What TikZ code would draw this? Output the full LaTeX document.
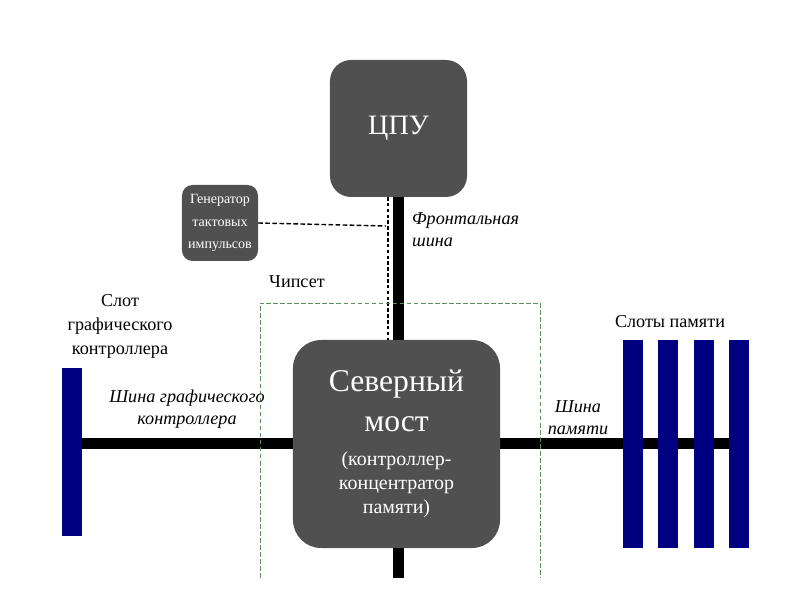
\documentclass[tikz,border=0pt]{standalone}
\usepackage{fontspec}
\setmainfont{Liberation Serif}
\usetikzlibrary{positioning,backgrounds}
\definecolor{boxgray}{HTML}{505050}
\definecolor{slotblue}{HTML}{000080}
\definecolor{chipgreen}{HTML}{5E8E5E}
\newcommand{\bigfs}{\fontsize{27}{34}\selectfont}
\newcommand{\smallfs}{\fontsize{17}{20.5}\selectfont}

\begin{document}
\begin{tikzpicture}[x=0.03cm,y=-0.03cm,
  block/.style={fill=boxgray,text=white,align=center,inner sep=0pt},
  slot/.style={fill=slotblue,minimum width=0.6cm,inner sep=0pt},
  bus/.style={line width=0.33cm},
  lbl/.style={align=center,font=\fontsize{15.5}{20.5}\selectfont},
  buslbl/.style={align=center,font=\itshape\fontsize{15.5}{19}\selectfont},
  node distance=0.45cm]
\useasboundingbox (0,0) rectangle (800,600);

% blocks
\node[block,rounded corners=18pt,minimum width=4.11cm,minimum height=4.11cm,
  font=\fontsize{24}{28}\selectfont] (cpu) at (398.5,128.5) {ЦПУ};
\node[block,rounded corners=9pt,minimum width=2.28cm,minimum height=2.28cm,
  font=\fontsize{12}{19.5}\selectfont] (clk) at (220,223) {Генератор\\тактовых\\импульсов};
\node[block,rounded corners=24pt,minimum width=6.21cm,minimum height=6.24cm,font=\smallfs] (nb) at (396.5,444)
  {\bigfs Северный\\[13pt]\bigfs мост\\[9pt](контроллер-\\концентратор\\памяти)};

% slots
\node[slot,minimum height=5.04cm] (slotg) at (72,452) {};
\node[slot,minimum height=6.24cm] (m1) at (633,444) {};
\node[slot,minimum height=6.24cm,right=of m1] (m2) {};
\node[slot,minimum height=6.24cm,right=of m2] (m3) {};
\node[slot,minimum height=6.24cm,right=of m3] (m4) {};

\coordinate (sbot) at (398,578);
\coordinate (tap) at (386,226);
\coordinate (ft) at (388,197);
\coordinate (fb) at (388,340);

% buses
\begin{scope}[on background layer]
\draw[bus] (cpu.south) -- (cpu.south |- nb.north);
\draw[bus] (nb.south -| sbot) -- (sbot);
\draw[bus] (nb.west) -- (nb.west -| slotg.east);
\draw[bus] (nb.east) -- (nb.east -| m4.center);
\end{scope}

% clock line
\draw[line width=1.2pt,dash pattern=on 4pt off 2pt] (clk.east) -- (tap);
\draw[line width=1pt,dash pattern=on 3pt off 2pt] (ft) -- (fb);

% chipset
\draw[chipgreen,line width=0.6pt,dash pattern=on 4pt off 2pt]
  (260,578) -- (260,303) -- (540,303) -- (540,578);

% labels
\node[lbl] (chip) at (297,282) {Чипсет};
\node[lbl] (slotglbl) at (120,326) {Слот\\графического\\контроллера};
\node[lbl] (memlbl) at (670,322) {Слоты памяти};
\node[buslbl] (gbus) at (187,409) {Шина графического\\контроллера};
\node[buslbl] (mbus) at (578,418) {Шина\\памяти};
\node[buslbl,align=left,anchor=west] (fbus) at (408,230) {Фронтальная\\шина};
\end{tikzpicture}
\end{document}
